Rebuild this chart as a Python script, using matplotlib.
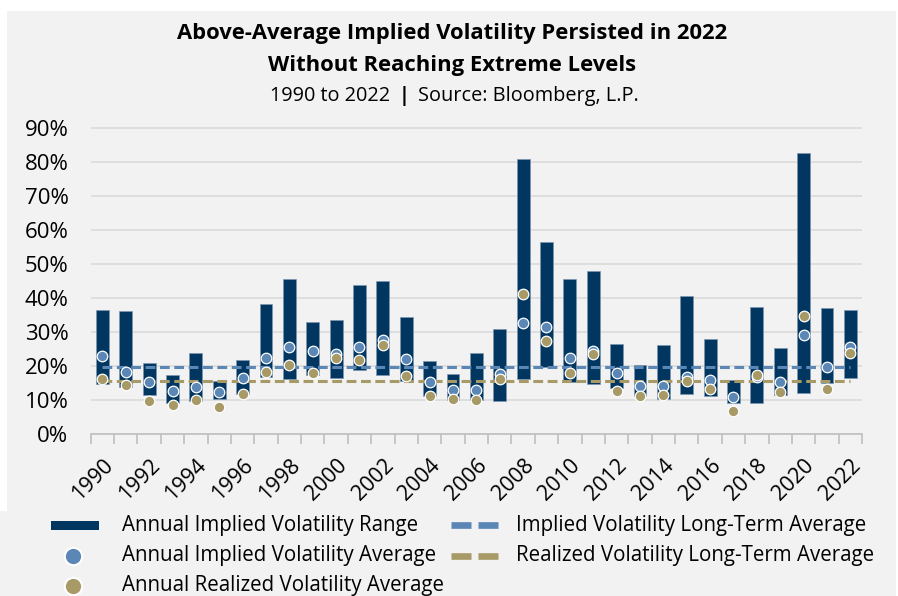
import matplotlib
matplotlib.use("Agg")
import matplotlib.pyplot as plt
from matplotlib.patches import Rectangle
from matplotlib.ticker import FuncFormatter, FixedLocator
import numpy as np

plt.rcParams['font.family'] = ['Open Sans', 'DejaVu Sans']

years = list(range(1990, 2023))
range_high = [36.5, 36.2, 21.0, 17.3, 23.8, 15.7, 22.0, 38.2, 45.7, 32.9, 33.5, 43.8, 45.1, 34.6,
              21.6, 17.7, 23.8, 31.1, 80.9, 56.6, 45.8, 47.9, 26.6, 20.4, 26.3, 40.8, 28.1, 16.0,
              37.3, 25.4, 82.7, 37.2, 36.5]
range_low = [14.7, 14.0, 11.5, 9.3, 9.9, 10.3, 12.0, 17.0, 16.3, 17.5, 16.5, 18.8, 17.5, 15.7,
             11.3, 10.1, 10.1, 9.9, 16.4, 19.7, 15.5, 14.7, 13.5, 11.4, 10.3, 12.0, 11.3, 9.1,
             9.1, 11.5, 12.1, 15.0, 16.7]
implied_avg = [23.1, 18.4, 15.5, 12.7, 14.0, 12.5, 16.5, 22.4, 25.7, 24.6, 23.5, 25.8, 27.7, 22.1,
               15.5, 13.0, 13.0, 17.6, 32.8, 31.7, 22.5, 24.6, 17.9, 14.3, 14.2, 17.0, 16.0, 11.1,
               17.0, 15.5, 29.3, 19.8, 25.7]
realized_avg = [16.2, 14.4, 9.7, 8.7, 10.0, 7.9, 12.0, 18.4, 20.4, 18.1, 22.4, 21.8, 26.2, 17.2,
                11.3, 10.3, 10.1, 16.2, 41.2, 27.4, 18.1, 23.5, 12.8, 11.2, 11.6, 15.6, 13.2, 6.9,
                17.3, 12.5, 34.8, 13.2, 23.9]
implied_lt_avg = 19.7
realized_lt_avg = 15.6

navy = '#003660'
blue = '#5a87b5'
tan = '#a89a67'
bgc = '#f2f2f2'

W, H = 898, 596
fig = plt.figure(figsize=(W / 100, H / 100), dpi=100, facecolor='white')

# background / legend layer in pixel coordinates
bg = fig.add_axes([0, 0, 1, 1], zorder=0)
bg.set_xlim(0, W)
bg.set_ylim(H, 0)
bg.axis('off')
bg.add_patch(Rectangle((7, 11), 889, 500, color=bgc, lw=0))
bg.add_patch(Rectangle((0, 511), 896, 85, color=bgc, lw=0))

# titles
bg.text(452, 33, 'Above-Average Implied Volatility Persisted in 2022', ha='center', va='center',
        fontsize=15.8, fontweight='bold')
bg.text(452, 65, 'Without Reaching Extreme Levels', ha='center', va='center',
        fontsize=15.8, fontweight='bold')
bg.text(390, 96, '1990 to 2022', ha='right', va='center', fontsize=14.3)
bg.text(404, 96, '|', ha='center', va='center', fontsize=14.3, fontweight='bold')
bg.text(418, 96, 'Source: Bloomberg, L.P.', ha='left', va='center', fontsize=14.3)

# main axes
x0, x1 = 90.7, 862.0
y0 = 434.3
ppu = 340.0  # pixels per 100%
ytop = 0.91
ax = fig.add_axes([x0 / W, (H - y0) / H, (x1 - x0) / W, ytop * ppu / H], zorder=1)
ax.set_facecolor('none')

n = len(years)
idx = np.arange(n)
hi = np.array(range_high) / 100
lo = np.array(range_low) / 100
ax.bar(idx, hi - lo, bottom=lo, width=0.55, color=navy, edgecolor='#7d97b3', linewidth=0.5, zorder=3)
ax.plot([0, n - 1], [implied_lt_avg / 100] * 2, color=blue, lw=2.2, dashes=(3.2, 1.5), zorder=4)
ax.plot([0, n - 1], [realized_lt_avg / 100] * 2, color=tan, lw=2.2, dashes=(3.2, 1.5), zorder=4)
ax.plot(idx, np.array(implied_avg) / 100, 'o', color=blue, ms=7.6, mec='white', mew=0.9, zorder=5)
ax.plot(idx, np.array(realized_avg) / 100, 'o', color=tan, ms=7.6, mec='white', mew=0.9, zorder=6)

ax.set_xlim(-0.5, n - 0.5)
ax.set_ylim(0, ytop)
ax.set_yticks(np.arange(0, 0.91, 0.1))
ax.yaxis.set_major_formatter(FuncFormatter(lambda v, p: f'{v * 100:.0f}%'))
ax.grid(axis='y', color='#d9d9d9', lw=1.1, zorder=0)
ax.set_axisbelow(True)
for s in ['top', 'right', 'left']:
    ax.spines[s].set_visible(False)
ax.spines['bottom'].set_color('#bfbfbf')
ax.spines['bottom'].set_linewidth(1.2)
ax.tick_params(axis='y', length=0, pad=16, labelsize=16)

lab_idx = [i for i in idx if years[i] % 2 == 0]
ax.set_xticks(lab_idx)
ax.set_xticklabels([str(years[i]) for i in lab_idx], rotation=45, ha='right', va='top',
                   rotation_mode='anchor', fontsize=15.5)
ax.tick_params(axis='x', which='major', length=0, pad=15)
ax.xaxis.set_minor_locator(FixedLocator(np.arange(-0.5, n, 1.0)))
ax.tick_params(axis='x', which='minor', length=7, width=1.2, color='#bfbfbf')

# legend (manual, pixel coords)
fs = 14.8
bg.add_patch(Rectangle((51, 521), 48, 8.5, color=navy, lw=0))
bg.text(122, 525, 'Annual Implied Volatility Range', va='center', ha='left', fontsize=fs)
bg.plot([73], [555.5], 'o', color=blue, ms=12.5, mec='white', mew=1.5)
bg.text(122, 555.5, 'Annual Implied Volatility Average', va='center', ha='left', fontsize=fs)
bg.plot([73], [586], 'o', color=tan, ms=12.5, mec='white', mew=1.5)
bg.text(122, 586, 'Annual Realized Volatility Average', va='center', ha='left', fontsize=fs)
bg.plot([451, 471], [525, 525], color=blue, lw=4.8, solid_capstyle='butt')
bg.plot([478, 498], [525, 525], color=blue, lw=4.8, solid_capstyle='butt')
bg.text(516, 525, 'Implied Volatility Long-Term Average', va='center', ha='left', fontsize=fs)
bg.plot([451, 471], [555.5, 555.5], color=tan, lw=4.8, solid_capstyle='butt')
bg.plot([478, 498], [555.5, 555.5], color=tan, lw=4.8, solid_capstyle='butt')
bg.text(516, 555.5, 'Realized Volatility Long-Term Average', va='center', ha='left', fontsize=fs)

fig.savefig('out.png', dpi=100, facecolor='white')
